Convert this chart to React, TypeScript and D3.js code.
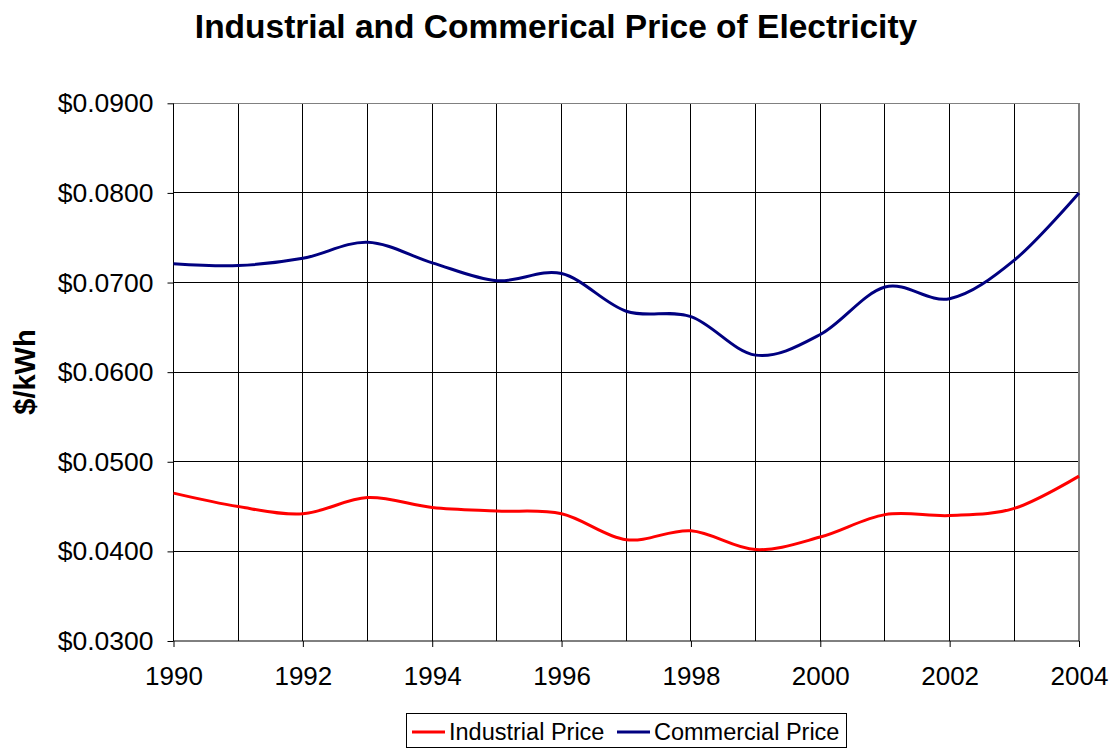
import React, { useEffect, useRef } from 'react';
import * as d3 from 'd3';

const years = [1990, 1991, 1992, 1993, 1994, 1995, 1996, 1997, 1998, 1999, 2000, 2001, 2002, 2003, 2004];
const industrialPrice = [0.0465, 0.045, 0.0442, 0.046, 0.0449, 0.0445, 0.0442, 0.0413, 0.0423, 0.0402, 0.0416, 0.0441, 0.044, 0.0448, 0.0484];
const commercialPrice = [0.0721, 0.0719, 0.0727, 0.0745, 0.0722, 0.0702, 0.071, 0.0668, 0.0662, 0.0619, 0.0642, 0.0695, 0.0682, 0.0725, 0.08];
const yTicks = [0.03, 0.04, 0.05, 0.06, 0.07, 0.08, 0.09];
const xTickLabels = [1990, 1992, 1994, 1996, 1998, 2000, 2002, 2004];

const seriesList = [
  { name: 'Industrial Price', values: industrialPrice, color: '#ff0000' },
  { name: 'Commercial Price', values: commercialPrice, color: '#000080' },
];

const App: React.FC = () => {
  const svgRef = useRef<SVGSVGElement | null>(null);

  useEffect(() => {
    if (!svgRef.current) return;
    const width = 1115;
    const height = 749;
    const font = 'Liberation Sans, Arial, sans-serif';

    const svg = d3.select(svgRef.current);
    svg.selectAll('*').remove();
    svg.attr('width', width).attr('height', height);

    const left = 173.5;
    const right = 1079;
    const top = 103.3;
    const bottom = 641;

    const x = d3.scaleLinear().domain([1990, 2004]).range([left, right]);
    const y = d3.scaleLinear().domain([0.03, 0.09]).range([bottom, top]);

    // Title
    svg
      .append('text')
      .attr('x', 556)
      .attr('y', 38)
      .attr('text-anchor', 'middle')
      .style('font-family', font)
      .style('font-weight', 'bold')
      .style('font-size', '33.5px')
      .text('Industrial and Commerical Price of Electricity');

    // Grid
    const grid = svg.append('g').attr('shape-rendering', 'crispEdges');
    grid
      .selectAll('line.v')
      .data(years.slice(1, -1))
      .enter()
      .append('line')
      .attr('x1', (d) => x(d))
      .attr('x2', (d) => x(d))
      .attr('y1', top)
      .attr('y2', bottom)
      .attr('stroke', '#000');
    grid
      .selectAll('line.h')
      .data(yTicks.slice(1, -1))
      .enter()
      .append('line')
      .attr('x1', left)
      .attr('x2', right)
      .attr('y1', (d) => y(d))
      .attr('y2', (d) => y(d))
      .attr('stroke', '#000');

    // Plot border (top and right gray)
    grid
      .append('line')
      .attr('x1', left)
      .attr('x2', right)
      .attr('y1', top)
      .attr('y2', top)
      .attr('stroke', '#808080');
    grid
      .append('line')
      .attr('x1', right)
      .attr('x2', right)
      .attr('y1', top)
      .attr('y2', bottom)
      .attr('stroke', '#808080')
      .attr('stroke-width', 2);

    // Axes
    const yAxis = d3
      .axisLeft(y)
      .tickValues(yTicks)
      .tickSize(6)
      .tickPadding(14)
      .tickFormat((d) => '$' + (d as number).toFixed(4));
    const gy = svg
      .append('g')
      .attr('transform', `translate(${left},0)`)
      .call(yAxis);
    gy.select('.domain').attr('stroke', '#000').attr('d', `M-0,${top}H0V${bottom}H-0`);
    gy.selectAll('line').attr('stroke', '#000');
    gy.selectAll('text')
      .style('font-family', font)
      .style('font-size', '26.5px')
      .attr('fill', '#000');

    const xAxis = d3
      .axisBottom(x)
      .tickValues(xTickLabels)
      .tickSize(6)
      .tickPadding(20)
      .tickFormat((d) => String(d));
    const gx = svg
      .append('g')
      .attr('transform', `translate(0,${bottom})`)
      .call(xAxis);
    gx.select('.domain').attr('stroke', '#000').attr('d', `M${left},0H${right}`);
    gx.selectAll('line').attr('stroke', '#000');
    gx.selectAll('text')
      .style('font-family', font)
      .style('font-size', '26px')
      .attr('fill', '#000');

    // Y title
    svg
      .append('text')
      .attr('transform', 'translate(35,372) rotate(-90)')
      .attr('text-anchor', 'middle')
      .style('font-family', font)
      .style('font-weight', 'bold')
      .style('font-size', '29px')
      .text('$/kWh');

    // Lines
    const line = d3
      .line<number>()
      .x((_, i) => x(years[i]))
      .y((d) => y(d))
      .curve(d3.curveCatmullRom.alpha(0));

    svg
      .selectAll('path.series')
      .data(seriesList)
      .enter()
      .append('path')
      .attr('class', 'series')
      .attr('d', (d) => line(d.values) as string)
      .attr('fill', 'none')
      .attr('stroke', (d) => d.color)
      .attr('stroke-width', 3);

    // Legend
    const legend = svg.append('g');
    legend
      .append('rect')
      .attr('x', 406.5)
      .attr('y', 713.5)
      .attr('width', 440)
      .attr('height', 34)
      .attr('fill', '#fff')
      .attr('stroke', '#000');
    const items = [
      { lx: 412, tx: 449 },
      { lx: 617, tx: 654 },
    ];
    seriesList.forEach((s, i) => {
      legend
        .append('line')
        .attr('x1', items[i].lx)
        .attr('x2', items[i].lx + 33)
        .attr('y1', 732)
        .attr('y2', 732)
        .attr('stroke', s.color)
        .attr('stroke-width', 3);
      legend
        .append('text')
        .attr('x', items[i].tx)
        .attr('y', 740)
        .style('font-family', font)
        .style('font-size', '23.5px')
        .text(s.name);
    });
  }, []);

  return <svg ref={svgRef} style={{ position: 'absolute', left: 0, top: 0 }}></svg>;
};

export default App;
